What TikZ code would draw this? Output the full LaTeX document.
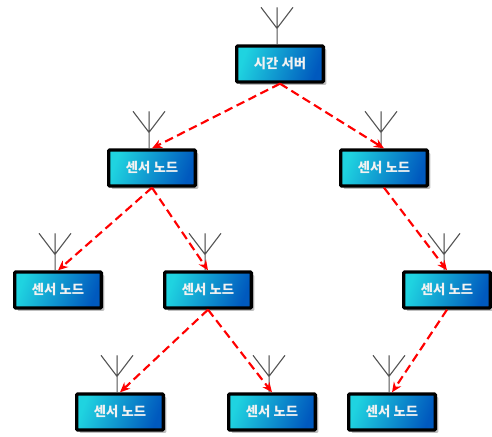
\documentclass[tikz,border=0pt]{standalone}
\usepackage{fontspec}
\setmainfont{Noto Sans CJK KR}
\usetikzlibrary{%
  positioning
 ,arrows.meta
 ,shadows
}
\definecolor{boxcyan}{HTML}{1FD3E0}
\definecolor{boxblue}{HTML}{0059BE}
\tikzstyle{aut}=[node distance=91.5pt,on grid,inner sep=2pt]
\tikzstyle{st}=[rectangle,draw=black,line width=2.5pt,rounded corners=0.8pt,minimum width=65pt,minimum height=27pt,
  left color=boxcyan,right color=boxblue,shading angle=70,
  drop shadow={shadow xshift=2.2pt,shadow yshift=-2.2pt,fill=black!50,opacity=0.5},
  text=white!95!black,font=\fontsize{10}{12}\selectfont\bfseries]
\tikzstyle{link}=[->,>={Stealth[length=7.5pt,width=6.5pt]},red,line width=1.6pt,dash pattern=on 6.5pt off 3.5pt]
\tikzstyle{ant}=[draw=black!68,line width=0.75pt]
\tikzstyle{antsh}=[draw=black!15,line width=0.9pt,xshift=1.2pt,yshift=-1.2pt]
\newcommand{\antenna}[1]{%
  \draw[antsh,shift={(#1.north)}] (-14.25pt,27.75pt) -- (-2.25pt,12pt) -- (9.75pt,27.75pt) (-2.25pt,12pt) -- (-2.25pt,27.75pt);
  \draw[ant,shift={(#1.north)}] (-2.25pt,0pt) -- (-2.25pt,27.75pt) (-14.25pt,27.75pt) -- (-2.25pt,12pt) -- (9.75pt,27.75pt);
}
\begin{document}
\begin{tikzpicture}[aut]
      \useasboundingbox (0pt,0pt) rectangle (369pt,-327pt);
      \node[st] (s_0) at (210pt,-48pt) {시간 서버};
      \node[st] (s_1) [below of=s_0, yshift=13.5pt, xshift=-96pt] {센서 노드};
      \node[st] (s_2) [below of=s_0, yshift=13.5pt, xshift=78pt] {센서 노드};
      \node[st] (s_3) [below of=s_1, xshift=-70.5pt] {센서 노드};
      \node[st] (s_4) [below of=s_1, xshift=42pt] {센서 노드};
      \node[st] (s_5) [below of=s_2, xshift=47.25pt] {센서 노드};
      \node[st] (s_6) [below of=s_4, xshift=-66pt] {센서 노드};
      \node[st] (s_7) [below of=s_4, xshift=48pt] {센서 노드};
      \node[st] (s_8) [below of=s_5, xshift=-41.25pt] {센서 노드};
      \foreach \n in {s_0,s_1,s_2,s_3,s_4,s_5,s_6,s_7,s_8} {\antenna{\n}}
      \path[link]
        (s_0.south) edge (s_1.north) edge (s_2.north)
        (s_1.south) edge (s_3.north) edge (s_4.north)
        (s_2.south) edge (s_5.north)
        (s_4.south) edge (s_6.north) edge (s_7.north)
        (s_5.south) edge (s_8.north);
    \end{tikzpicture}
\end{document}
